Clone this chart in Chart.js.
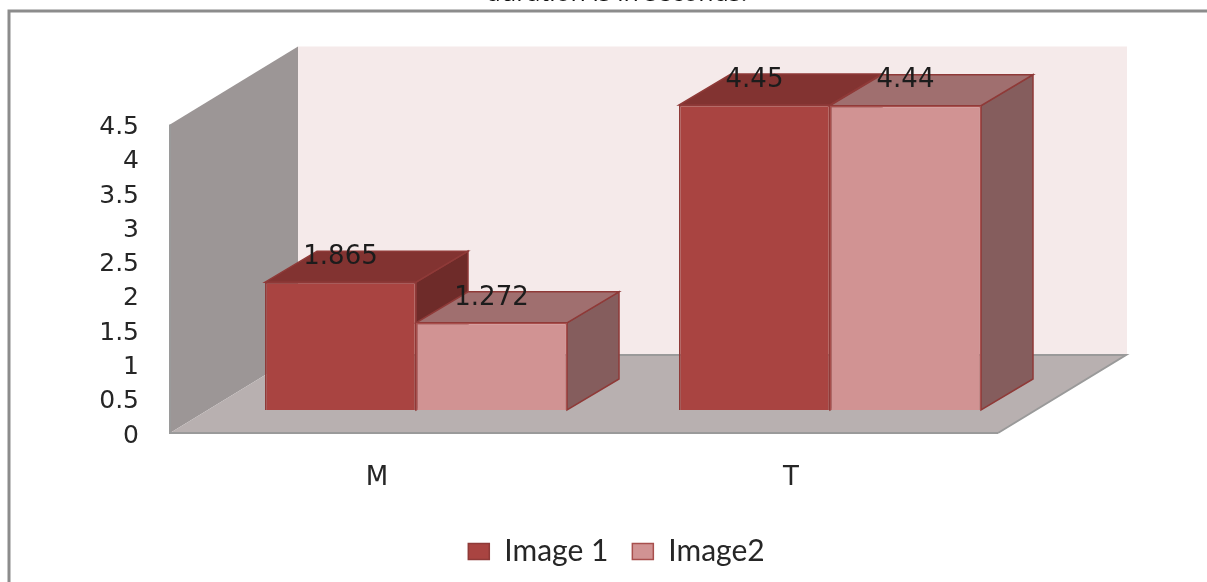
<!DOCTYPE html>
<html>
<head>
<meta charset="utf-8">
<title>Image duration</title>
<script src="https://cdn.jsdelivr.net/npm/chart.js@4"></script>
<style>
    html, body { margin: 0; padding: 0; background: #fff; overflow: hidden; }
    #wrap { position: relative; width: 1207px; height: 582px; }
</style>
</head>
<body>
<div id="wrap"><canvas id="durationChart" width="1207" height="582"></canvas></div>
<script>
const categories = ['M', 'T'];
const image1Values = [1.865, 4.45];
const image2Values = [1.272, 4.44];
const titleText = 'duration is in seconds.';

const bar1Faces = { top: '#823331', side: '#6e2b29', line: '#8f3a38' };
const bar2Faces = { top: '#a06f6f', side: '#855d5d', line: '#8f3a38' };
const faces = [bar1Faces, bar2Faces];

// depth of the box and of the bars, in pixels
const wallDepth = { x: 128, y: -78 };
const barDepth = { x: 52, y: -31 };
const floorWidth = 828;
// the plot starts further right than the wall because the bars sit inside the floor
const wallShift = 39;
const barLift = 0.336;

function poly(ctx, pts, fill, stroke) {
    ctx.beginPath();
    pts.forEach((p, i) => i ? ctx.lineTo(p[0], p[1]) : ctx.moveTo(p[0], p[1]));
    ctx.closePath();
    ctx.fillStyle = fill;
    ctx.fill();
    if (stroke) {
        ctx.strokeStyle = stroke;
        ctx.lineWidth = 1.5;
        ctx.stroke();
    }
}

const box3d = {
    id: 'box3d',
    beforeDatasetsDraw(chart) {
        const { ctx, chartArea } = chart;
        const x0 = chartArea.left - wallShift;
        const top = chartArea.top;
        const bot = chartArea.bottom;
        const bx = x0 + wallDepth.x;
        const by = bot + wallDepth.y;

        ctx.save();
        // frame of the figure, only its top and left edge are in the picture
        ctx.strokeStyle = '#8c8c8c';
        ctx.lineWidth = 3;
        ctx.beginPath();
        ctx.moveTo(9, 582);
        ctx.lineTo(9, 11);
        ctx.lineTo(1207, 11);
        ctx.stroke();

        poly(ctx, [[bx, top + wallDepth.y], [bx + floorWidth + 1, top + wallDepth.y], [bx + floorWidth + 1, by], [bx, by]], '#f5eaea');
        poly(ctx, [[x0, top], [bx, top + wallDepth.y], [bx, by], [x0, bot]], '#9c9696');
        poly(ctx, [[x0, bot], [x0 + floorWidth, bot], [bx + floorWidth, by], [bx, by]], '#b8b0b0');

        ctx.strokeStyle = '#9a9a9a';
        ctx.lineWidth = 2;
        ctx.beginPath();
        ctx.moveTo(x0 + floorWidth, bot);
        ctx.lineTo(x0, bot);
        ctx.lineTo(x0, top);
        ctx.moveTo(x0 + floorWidth, bot);
        ctx.lineTo(bx + floorWidth, by);
        ctx.lineTo(bx, by);
        ctx.stroke();

        // tops and sides of the bars, the fronts come from the bar datasets
        categories.forEach((c, i) => {
            chart.data.datasets.forEach((ds, d) => {
                const bar = chart.getDatasetMeta(d).data[i];
                const l = bar.x - bar.width / 2;
                const r = bar.x + bar.width / 2;
                const t = bar.y;
                const b = bar.base;
                const f = faces[d];
                poly(ctx, [[r, t], [r + barDepth.x, t + barDepth.y], [r + barDepth.x, b + barDepth.y], [r, b]], f.side, f.line);
                poly(ctx, [[l, t], [r, t], [r + barDepth.x, t + barDepth.y], [l + barDepth.x, t + barDepth.y]], f.top, f.line);
            });
        });
        ctx.restore();
    },
    afterDatasetsDraw(chart) {
        const { ctx } = chart;
        ctx.save();
        ctx.font = '26px "DejaVu Sans"';
        ctx.fillStyle = '#1c1c1c';
        ctx.textAlign = 'center';
        ctx.textBaseline = 'middle';
        chart.data.datasets.forEach((ds, d) => {
            chart.getDatasetMeta(d).data.forEach((bar, i) => {
                ctx.fillText(String(ds.data[i]), bar.x, bar.y - 25);
            });
        });
        ctx.restore();
    }
};

new Chart(document.getElementById('durationChart'), {
    type: 'bar',
    data: {
        labels: categories,
        datasets: [
            { label: 'Image 1', data: image1Values, yAxisID: 'yBars', backgroundColor: '#a94441', borderColor: '#8f3a38', borderWidth: 1.5, clip: false },
            { label: 'Image2', data: image2Values, yAxisID: 'yBars', backgroundColor: '#d19393', borderColor: '#a84f4d', borderWidth: 1.5, clip: false }
        ]
    },
    options: {
        responsive: false,
        animation: false,
        categoryPercentage: 0.7295,
        barPercentage: 1,
        layout: { padding: { left: 26, right: 0, top: 0, bottom: 5.5 } },
        scales: {
            x: {
                grid: { display: false },
                border: { display: false },
                ticks: { color: '#262626', font: { family: '"DejaVu Sans"', size: 26 }, labelOffset: -39, padding: 22 },
                afterFit(scale) { scale.height = 79.5; }
            },
            y: {
                min: 0,
                max: 4.5,
                grid: { display: false },
                border: { display: false },
                ticks: {
                    stepSize: 0.5,
                    autoSkip: false,
                    color: '#262626',
                    font: { family: '"DejaVu Sans"', size: 25 },
                    padding: 62,
                    labelOffset: 3,
                    callback: v => String(v)
                },
                afterFit(scale) { scale.width = 183; }
            },
            // drives the bars: its zero sits inside the floor, above the zero of the drawn axis
            yBars: {
                position: 'right',
                min: -barLift,
                max: 4.5 - barLift,
                grid: { display: false },
                border: { display: false },
                ticks: { display: false },
                afterFit(scale) { scale.width = 170; }
            }
        },
        plugins: {
            title: {
                display: true,
                text: titleText,
                color: '#111',
                font: { family: '"Open Sans"', size: 25, weight: 'normal' },
                padding: { top: -21, bottom: 115.6 }
            },
            legend: {
                position: 'bottom',
                labels: { color: '#262626', font: { family: 'Lato', size: 30 }, boxWidth: 21, boxHeight: 16, padding: 24 }
            },
            tooltip: { enabled: false }
        }
    },
    plugins: [box3d]
});
</script>
</body>
</html>
